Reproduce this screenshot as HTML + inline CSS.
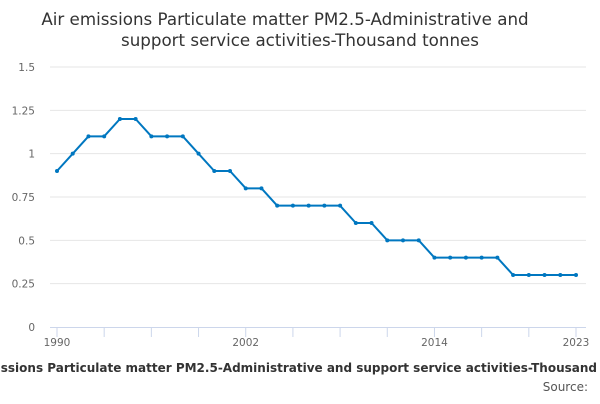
<!DOCTYPE html>
<html><head><meta charset="utf-8"><style>
body{margin:0;width:600px;height:400px;overflow:hidden;background:#fff;font-family:"DejaVu Sans","Liberation Sans",sans-serif;}
</style></head><body>
<svg width="600" height="400" xmlns="http://www.w3.org/2000/svg" style="font-family:'DejaVu Sans','Liberation Sans',sans-serif">
<text x="285" y="25" text-anchor="middle" font-size="16.7" fill="#333">Air emissions Particulate matter PM2.5-Administrative and</text>
<text x="300" y="46" text-anchor="middle" font-size="16.7" fill="#333">support service activities-Thousand tonnes</text>
<g id="grid"></g>
<g id="xaxis"></g>
<g id="series"></g>
<text x="300" y="372" text-anchor="middle" font-size="12" font-weight="bold" fill="#333">Air emissions Particulate matter PM2.5-Administrative and support service activities-Thousand tonnes</text>
<text x="588" y="391" text-anchor="end" font-size="12" fill="#555">Source:</text>
</svg>
<script>
const years=[1990,1991,1992,1993,1994,1995,1996,1997,1998,1999,2000,2001,2002,2003,2004,2005,2006,2007,2008,2009,2010,2011,2012,2013,2014,2015,2016,2017,2018,2019,2020,2021,2022,2023];
const values=[0.9,1.0,1.1,1.1,1.2,1.2,1.1,1.1,1.1,1.0,0.9,0.9,0.8,0.8,0.7,0.7,0.7,0.7,0.7,0.6,0.6,0.5,0.5,0.5,0.4,0.4,0.4,0.4,0.4,0.3,0.3,0.3,0.3,0.3];
const yTicks=[0,0.25,0.5,0.75,1,1.25,1.5];
const yTickLabels=["0","0.25","0.5","0.75","1","1.25","1.5"];
const xLabels=[1990,2002,2014,2023];
const NS="http://www.w3.org/2000/svg";
const x=v=>57+(v-1990)*(519/33);
const y=v=>327-v*(260/1.5);
function mk(tag,attrs,parent,txt){const e=document.createElementNS(NS,tag);for(const k in attrs)e.setAttribute(k,attrs[k]);if(txt!==undefined)e.textContent=txt;parent.appendChild(e);return e;}
const grid=document.getElementById('grid'),xa=document.getElementById('xaxis'),s=document.getElementById('series');
yTicks.forEach((t,i)=>{
 if(t>0){const l=mk('line',{x1:50,x2:586,y1:y(t),y2:y(t),stroke:'#e6e6e6','stroke-width':1},grid);
 
 }
 const tx=mk('text',{x:35,y:y(t)+4,'text-anchor':'end','font-size':10.5,fill:'#666'},grid,yTickLabels[i]);
 
 
});
const base=mk('line',{x1:50,x2:586,y1:327.5,y2:327.5,stroke:'#ccd6eb','stroke-width':1},xa);


for(let yr=1990;yr<=2023;yr+=3){
 const t=mk('line',{x1:x(yr),x2:x(yr),y1:327,y2:337,stroke:'#ccd6eb','stroke-width':1},xa);
 
 
}
xLabels.forEach(yr=>{
 const t=mk('text',{x:x(yr),y:346,'text-anchor':'middle','font-size':10.5,fill:'#666'},xa,String(yr));
 
 
});
const pts=years.map((yr,i)=>x(yr)+','+y(values[i])).join(' ');
const pl=mk('polyline',{points:pts,fill:'none',stroke:'#0077c0','stroke-width':2,'stroke-linejoin':'round'},s);


years.forEach((yr,i)=>{
 const c=mk('circle',{cx:x(yr),cy:y(values[i]),r:2,fill:'#0077c0'},s);
 
 
});
</script>
</body></html>
